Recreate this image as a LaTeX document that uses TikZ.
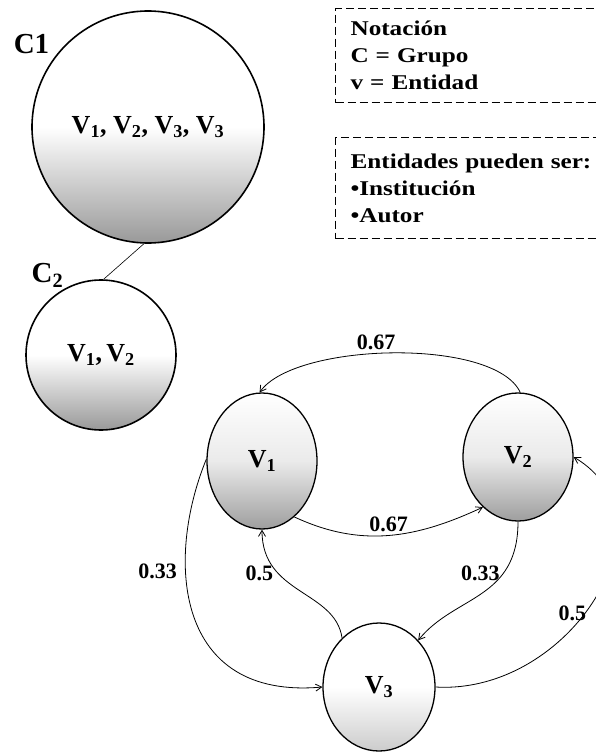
\documentclass[tikz,border=0pt]{standalone}
\usepackage{fontspec}
\setmainfont{Liberation Serif}
\newfontfamily\anchafont[FakeStretch=1.2]{Liberation Serif}
\usetikzlibrary{arrows.meta,positioning,shapes.geometric}

\begin{document}
\begin{tikzpicture}[
  x=1pt, y=1pt,
  grupo/.style={circle, draw, line width=1.6pt, top color=white, bottom color=black!40, middle color=white, inner sep=0pt},
  entidad/.style={ellipse, draw, line width=1.3pt, top color=white, bottom color=black!38, middle color=black!8, inner sep=0pt},
  notebox/.style={draw, dash pattern=on 8pt off 4pt, line width=1.1pt, anchor=north west,
    minimum width=280pt, text width=250pt, inner xsep=15pt, align=left,
    font=\anchafont\bfseries\fontsize{21}{27}\selectfont},
  arrow/.style={-{Straight Barb[length=6pt,width=7pt]}, line width=0.8pt},
  peso/.style={font=\bfseries\fontsize{22}{22}\selectfont},
  vlab/.style={font=\bfseries\fontsize{26}{26}\selectfont},
  clab/.style={font=\bfseries\fontsize{29}{29}\selectfont, inner sep=0pt}
]
\useasboundingbox (0,0) rectangle (595,-754);

% grupos
\node[grupo, minimum size=232pt, vlab] (c1) at (148,-127) {V\textsubscript{1}, V\textsubscript{2}, V\textsubscript{3}, V\textsubscript{3}};
\node[grupo, minimum size=150pt, vlab] (c2) at (101,-355) {V\textsubscript{1},\,V\textsubscript{2}};
\node[clab, left=16pt of c1.north west] (c1lab) {C1};
\node[clab, above=14pt of c2.north west] (c2lab) {C\textsubscript{2}};
\draw[line width=0.6pt] (c1.268) -- (c2.88);

% notas
\node[notebox, minimum height=94pt] (notacion) at (335,-8) {Notación\\C = Grupo\\v = Entidad};
\node[notebox, minimum height=101pt] (tipos) at (335,-137) {Entidades pueden ser:\\•Institución\\•Autor};

% entidades
\node[entidad, minimum width=110pt, minimum height=136pt, vlab] (v1) at (262,-461) {V\textsubscript{1}};
\node[entidad, minimum width=110pt, minimum height=128pt, vlab] (v2) at (518,-457) {V\textsubscript{2}};
\node[entidad, minimum width=112pt, minimum height=128pt, vlab, top color=white, bottom color=black!20, middle color=white] (v3) at (379,-687) {V\textsubscript{3}};

% pesos
\draw[arrow] (v2.88) to[out=115, in=55, looseness=0.6] node[peso, above, pos=0.55] {0.67} (v1.92);
\draw[arrow] (v1.300) to[out=-25, in=205] node[peso, above] {0.67} (v2.235);
\draw[arrow] (v1.178) .. controls (165,-560) and (175,-700) .. node[peso, pos=0.35, left=5pt] {0.33} (v3.west);
\draw[arrow] (v3.127) .. controls (335,-590) and (262,-595) .. node[peso, pos=0.69, left=2pt] {0.5} (v1.south);
\draw[arrow] (v2.270) .. controls (518,-600) and (455,-595) .. node[peso, pos=0.3, left] {0.33} (v3.50);
\draw[arrow] (v3.east) .. controls (570,-695) and (680,-520) .. node[peso, pos=0.45, left=-5pt] {0.5} (v2.east);

\end{tikzpicture}
\end{document}
